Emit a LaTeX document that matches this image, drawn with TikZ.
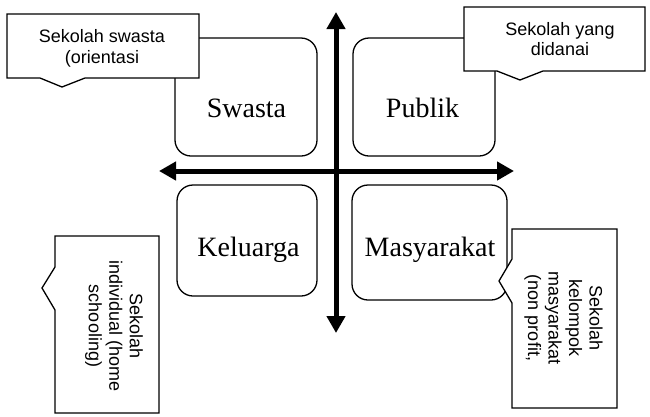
\documentclass[tikz,border=0pt]{standalone}
\usepackage{fontspec}
\setmainfont{Liberation Serif}
\newfontfamily\notefont{Liberation Sans}
\usetikzlibrary{arrows.meta}

\begin{document}
\begin{tikzpicture}[x=1pt,y=-1pt,
  quad/.style={draw, line width=1.3pt, rounded corners=16pt, fill=white, inner sep=0pt},
  quadlabel/.style={font=\fontsize{28}{30}\selectfont, anchor=base, inner sep=0pt},
  note/.style={draw, line width=1.3pt, fill=white, line join=miter},
  notetext/.style={font=\notefont\fontsize{18}{20.5}\selectfont, align=center, inner sep=0pt},
  axisline/.style={line width=5pt, {Triangle[width=18pt,length=17pt]}-{Triangle[width=18pt,length=17pt]}}]

\useasboundingbox (0,0) rectangle (650,416);

% four quadrant boxes
\node[quad, minimum width=142pt, minimum height=118pt] (swasta) at (246,97) {};
\node[quad, minimum width=142pt, minimum height=118pt] (publik) at (424,97) {};
\node[quad, minimum width=140pt, minimum height=111pt] (keluarga) at (247,240.5) {};
\node[quad, minimum width=155pt, minimum height=115pt] (masyarakat) at (429.5,242.5) {};

\node[quadlabel] (swastaT) at (246.5,117) {Swasta};
\node[quadlabel] (publikT) at (422.5,117) {Publik};
\node[quadlabel] (keluargaT) at (248.5,256) {Keluarga};
\node[quadlabel] (masyarakatT) at (430,256) {Masyarakat};

% axes
\coordinate (hL) at (159,171);
\coordinate (hR) at (514,171);
\coordinate (vT) at (336,12);
\coordinate (vB) at (336,333);
\draw[axisline] (hL) -- (hR);
\draw[axisline] (vT) -- (vB);

% callouts
\draw[note] (7,14) -- (199,14) -- (199,78) -- (85,78) -- (62,87) -- (40,78) -- (7,78) -- cycle;
\node[notetext] (noteSwasta) at (102,48.3) {Sekolah swasta\\(orientasi};

\draw[note] (464,7) -- (645,7) -- (645,71) -- (543,71) -- (520,80) -- (497,71) -- (464,71) -- cycle;
\node[notetext] (notePublik) at (560,38.9) {Sekolah yang\\didanai};

\draw[note] (55,236) -- (159,236) -- (159,413) -- (55,413) -- (55,310) -- (42,288) -- (55,267) -- cycle;
\node[notetext, rotate=-90] (noteKeluarga) at (114,326) {Sekolah\\individual (home\\schooling)};

\draw[note] (512,229) -- (617,229) -- (617,408) -- (512,408) -- (512,303) -- (499,281) -- (512,259) -- cycle;
\node[notetext, rotate=-90] (noteMasyarakat) at (563.5,318) {Sekolah\\kelompok\\masyarakat\\(non profit,};

\end{tikzpicture}
\end{document}
